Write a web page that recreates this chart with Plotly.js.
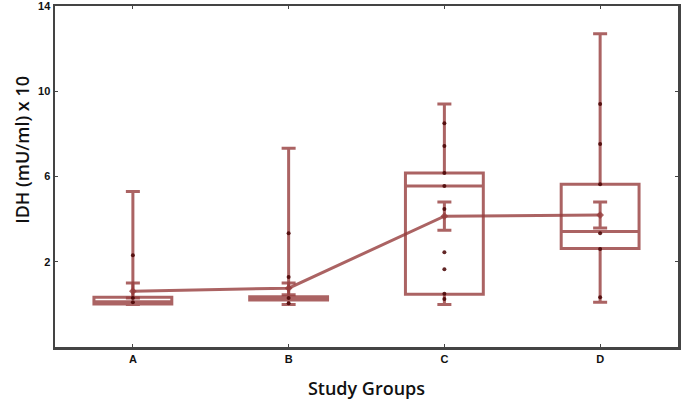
<!DOCTYPE html>
<html>
<head>
<meta charset="utf-8">
<script src="https://cdn.plot.ly/plotly-3.0.1.min.js"></script>
<style>
  body { margin: 0; background: #fff; }
  #chart { width: 684px; height: 407px; }
</style>
</head>
<body>
<div id="chart"></div>
<script>
// study groups
var groups = ["A", "B", "C", "D"];

// box statistics (IDH in mU/ml x 10)
var lowFence = [0.0, 0.0, 0.0, 0.1];
var q1 = [0.02, 0.2, 0.48, 2.62];
var median = [0.12, 0.28, 5.55, 3.42];
var q3 = [0.33, 0.36, 6.16, 5.64];
var highFence = [5.3, 7.33, 9.4, 12.7];

// group means with their interval ends
var means = [0.62, 0.76, 4.14, 4.19];
var ciUp = [1.0, 1.0, 4.8, 4.8];
var ciLow = [0.3, 0.45, 3.48, 3.58];

// individual observations
var ptGroup = ["A", "A", "A", "B", "B", "B", "B",
               "C", "C", "C", "C", "C", "C", "C", "C", "C",
               "D", "D", "D", "D", "D", "D"];
var ptValue = [2.31, 0.1, 0.3, 3.34, 1.28, 0.3, 0.05,
               8.5, 7.43, 6.16, 5.55, 4.47, 2.45, 1.65, 0.5, 0.25,
               9.4, 7.52, 5.64, 3.34, 2.6, 0.34];

var yTicks = [2, 6, 10, 14];

var red = "rgba(150,60,60,0.8)";
var dark = "rgba(70,0,0,0.85)";
var titleFont = { size: 18, family: "Open Sans, sans-serif", weight: 600, color: "#111" };

var errUp = means.map(function (m, i) { return ciUp[i] - m; });
var errDown = means.map(function (m, i) { return m - ciLow[i]; });

var data = [
  {
    type: "box",
    x: groups,
    q1: q1,
    median: median,
    q3: q3,
    lowerfence: lowFence,
    upperfence: highFence,
    width: 0.5,
    whiskerwidth: 0.18,
    fillcolor: "rgba(0,0,0,0)",
    line: { color: red, width: 3 },
    boxpoints: false,
    hoverinfo: "skip"
  },
  {
    type: "scatter",
    mode: "lines+markers",
    x: groups,
    y: means,
    line: { color: red, width: 3 },
    marker: { color: red, size: 6, symbol: "diamond" },
    error_y: {
      type: "data",
      symmetric: false,
      array: errUp,
      arrayminus: errDown,
      color: red,
      thickness: 3,
      width: 7
    }
  },
  {
    type: "scatter",
    mode: "markers",
    x: ptGroup,
    y: ptValue,
    marker: { color: dark, size: 4 }
  }
];

var layout = {
  width: 684,
  height: 407,
  margin: { l: 55, r: 6, t: 6, b: 60 },
  paper_bgcolor: "#fff",
  plot_bgcolor: "#fff",
  showlegend: false,
  font: { family: "Liberation Sans, Arial, sans-serif", color: "#111" },
  xaxis: {
    type: "category",
    range: [-0.5, 3.5],
    showline: true,
    mirror: "ticks",
    linecolor: "#444",
    linewidth: 2.5,
    ticks: "inside",
    ticklen: 3,
    tickcolor: "#444",
    showgrid: false,
    zeroline: false,
    tickfont: { size: 11, family: "Liberation Sans, Arial, sans-serif", weight: "bold" },
    title: { text: "Study Groups", font: titleFont, standoff: 19 }
  },
  yaxis: {
    range: [-2, 14],
    tickvals: yTicks,
    ticktext: yTicks.map(String),
    ticklabeloverflow: "allow",
    showline: true,
    mirror: "ticks",
    linecolor: "#444",
    linewidth: 2.5,
    ticks: "inside",
    ticklen: 3,
    tickcolor: "#444",
    showgrid: false,
    zeroline: false,
    tickfont: { size: 11, family: "Liberation Sans, Arial, sans-serif", weight: "bold" }
  },
  annotations: [{
    text: "IDH (mU/ml) x 10",
    xref: "paper", yref: "y",
    x: 0, y: 7.25,
    xanchor: "center", yanchor: "middle",
    xshift: -33,
    textangle: -90,
    showarrow: false,
    font: titleFont
  }]
};

Plotly.newPlot("chart", data, layout, { displayModeBar: false, staticPlot: true });
</script>
</body>
</html>
